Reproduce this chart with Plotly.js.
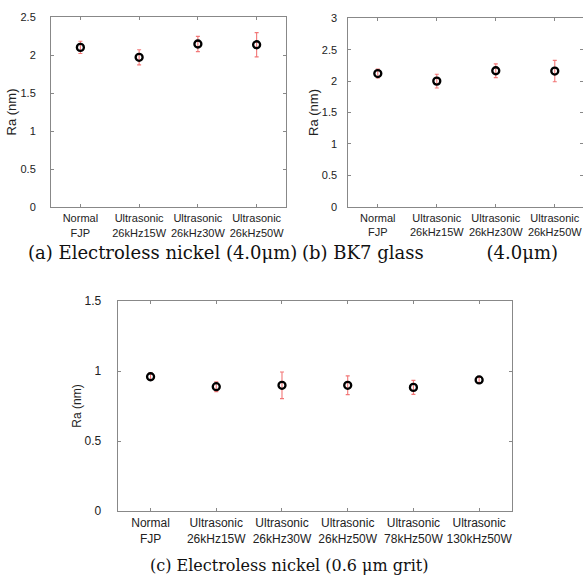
<!DOCTYPE html>
<html>
<head>
<meta charset="utf-8">
<script src="https://cdn.plot.ly/plotly-3.0.1.min.js"></script>
<style>html,body{margin:0;padding:0;background:#fff;}#chart{width:583px;height:578px;}</style>
</head>
<body>
<div id="chart"></div>
<script>
const categoriesAB = ["Normal<br>FJP", "Ultrasonic<br>26kHz15W", "Ultrasonic<br>26kHz30W", "Ultrasonic<br>26kHz50W"];
const raA = [2.10, 1.97, 2.145, 2.135];
const errA = [0.08, 0.10, 0.10, 0.16];
const raB = [2.12, 2.00, 2.165, 2.16];
const errB = [0.07, 0.11, 0.11, 0.17];
const categoriesC = ["Normal<br>FJP", "Ultrasonic<br>26kHz15W", "Ultrasonic<br>26kHz30W", "Ultrasonic<br>26kHz50W", "Ultrasonic<br>78kHz50W", "Ultrasonic<br>130kHz50W"];
const raC = [0.959, 0.888, 0.898, 0.898, 0.883, 0.936];
const errC = [0.026, 0.035, 0.095, 0.067, 0.05, 0.018];
const yTitle = "Ra (nm)";
const captionA = "(a) Electroless nickel (4.0μm)";
const captionB = "(b) BK7 glass&nbsp;&nbsp;&nbsp;&nbsp;&nbsp;&nbsp;&nbsp;&nbsp;&nbsp;&nbsp;&nbsp;(4.0μm)";
const captionC = "(c) Electroless nickel (0.6 μm grit)";

const W = 583, H = 578;
function mk(x, y, e, xa, ya) {
  return {
    type: 'scatter', mode: 'markers', x: x, y: y, xaxis: xa, yaxis: ya,
    marker: {symbol: 'circle-open', size: 7, color: 'black', line: {width: 2.3, color: 'black'}},
    error_y: {type: 'data', array: e, visible: true, color: '#f27777', thickness: 1.1, width: 2},
    showlegend: false, hoverinfo: 'x+y'
  };
}
const tickFontAB = {family: 'Liberation Sans, Arial, sans-serif', size: 11, color: '#222'};
const tickFontC = {family: 'Liberation Sans, Arial, sans-serif', size: 12, color: '#222'};
function xax(d0, d1, r, anchor, font) {
  return {domain: [d0 / W, d1 / W], range: r, type: 'category', anchor: anchor,
    showline: true, linecolor: '#888', linewidth: 1, mirror: 'ticks',
    ticks: 'inside', ticklen: 3, tickcolor: '#888', showgrid: false, zeroline: false,
    tickfont: font, ticklabelstandoff: 1, fixedrange: true};
}
function yax(top, bot, r, dt, anchor, font, standoff, tstand, tsize) {
  return {domain: [1 - bot / H, 1 - top / H], range: r, dtick: dt, anchor: anchor,
    showline: true, linecolor: '#888', linewidth: 1, mirror: 'ticks',
    ticks: 'inside', ticklen: 3, tickcolor: '#888', showgrid: false, zeroline: false,
    tickfont: font, ticklabelstandoff: standoff,
    title: {text: yTitle, font: {family: 'Liberation Sans, Arial, sans-serif', size: tsize, color: '#222'}, standoff: tstand},
    fixedrange: true};
}
const data = [
  mk(categoriesAB, raA, errA, 'x', 'y'),
  mk(categoriesAB, raB, errB, 'x2', 'y2'),
  mk(categoriesC, raC, errC, 'x3', 'y3')
];
const capFont = {family: 'DejaVu Serif, serif', size: 16, color: '#111'};
const capFontAB = {family: 'DejaVu Serif, serif', size: 18, color: '#111'};
const layout = {
  width: W, height: H, margin: {l: 0, r: 0, t: 0, b: 0},
  paper_bgcolor: '#fff', plot_bgcolor: '#fff',
  xaxis: xax(51, 286, [-0.5, 3.5], 'y', tickFontAB),
  yaxis: yax(17, 207, [0, 2.5], 0.5, 'x', tickFontAB, 12, 0, 13),
  xaxis2: xax(348.3, 582.5, [-0.5, 3.47], 'y2', tickFontAB),
  yaxis2: yax(18.3, 206.7, [0, 3], 0.5, 'x2', tickFontAB, 8, 0, 13),
  xaxis3: xax(117.7, 512, [-0.5, 5.5], 'y3', tickFontC),
  yaxis3: yax(301, 511, [0, 1.5], 0.5, 'x3', tickFontC, 13, 0, 12),
  annotations: [
    {text: captionA, x: 162 / W, y: 1 - 252 / H, xref: 'paper', yref: 'paper', showarrow: false, font: capFontAB, xanchor: 'center', yanchor: 'middle'},
    {text: captionB, x: 300 / W, y: 1 - 252 / H, xref: 'paper', yref: 'paper', showarrow: false, font: capFontAB, xanchor: 'left', yanchor: 'middle'},
    {text: captionC, x: 289 / W, y: 1 - 565 / H, xref: 'paper', yref: 'paper', showarrow: false, font: capFont, xanchor: 'center', yanchor: 'middle'}
  ]
};
Plotly.newPlot('chart', data, layout, {displayModeBar: false, staticPlot: true});
</script>
</body>
</html>
